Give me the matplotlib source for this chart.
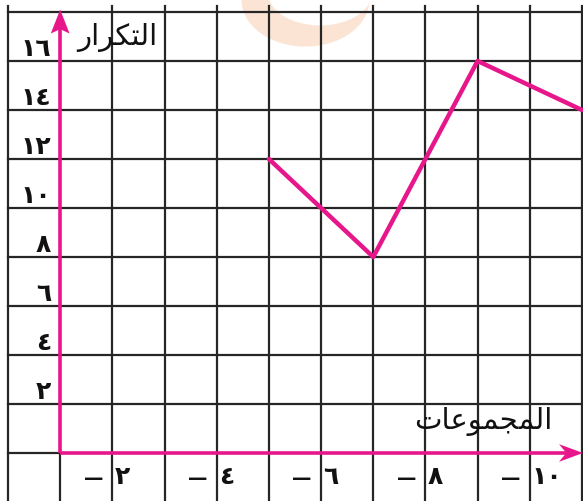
import matplotlib
matplotlib.use("Agg")
import matplotlib.pyplot as plt
from matplotlib.patches import Polygon, Ellipse

# ---------------- data ----------------
class_starts = [2, 4, 6, 8, 10]
class_labels = ['٢', '٤', '٦', '٨', '١٠']
midpoints = [5, 7, 9, 11]
frequencies = [12, 8, 16, 14]
y_ticks = [2, 4, 6, 8, 10, 12, 14, 16]
y_tick_labels = ['٢', '٤', '٦', '٨', '١٠', '١٢', '١٤', '١٦']
# Arabic titles, written with presentation forms in visual order so they are shaped
y_title = '\uFEAD\uFE8D\uFEAE\uFEDC\uFE98\uFEDF\uFE8D'          # التكرار
x_title = '\uFE95\uFE8E\uFECB\uFEEE\uFEE4\uFEA0\uFEE4\uFEDF\uFE8D'  # المجموعات

PINK = '#E8168B'
GRID = '#262626'

plt.rcParams['font.family'] = ['DejaVu Sans']

fig = plt.figure(figsize=(5.83, 5.01), dpi=100)
ax = fig.add_axes([0, 0, 1, 1])
ax.set_xlim(-0.153, 11.02)
ax.set_ylim(-1.96, 18.49)
ax.axis('off')

# faint watermark crescent at top
ax.add_patch(Ellipse((5.70, 18.49), 2.45, 3.8, color='#FCE4D4', zorder=0, lw=0))
ax.add_patch(Ellipse((5.98, 18.80), 2.0, 2.7, color='white', zorder=0.5, lw=0))

# grid
xs_grid = list(range(0, 12))
for x in xs_grid:
    if x == 1:
        ax.plot([x, x], [-1.96, 0], color=GRID, lw=1.6, zorder=2)
    else:
        ax.plot([x, x], [-1.96, 18.245], color=GRID, lw=1.6, zorder=2)
for y in range(2, 19, 2):
    ax.plot([0, 11.1], [y, y], color=GRID, lw=1.6, zorder=2)
ax.plot([0, 1], [0, 0], color=GRID, lw=1.6, zorder=2)

# pink axes with arrowheads
ax.plot([1, 1], [0, 17.3], color=PINK, lw=2.6, zorder=3, solid_capstyle='butt')
ax.plot([1, 10.7], [0, 0], color=PINK, lw=2.6, zorder=3, solid_capstyle='butt')
ax.add_patch(Polygon([[1, 18.1], [0.82, 17.12], [1, 17.3], [1.18, 17.12]],
                     closed=True, color=PINK, zorder=4, lw=0))
ax.add_patch(Polygon([[11.02, 0], [10.56, 0.36], [10.7, 0], [10.56, -0.36]],
                     closed=True, color=PINK, zorder=4, lw=0))

# frequency polygon
ax.plot(midpoints, frequencies, color=PINK, lw=3.2, zorder=5,
        solid_joinstyle='round', solid_capstyle='round')

# y tick labels
for v, lab in zip(y_ticks, y_tick_labels):
    ax.text(0.83, v + 0.5, lab, ha='right', va='center', fontsize=18,
            fontweight='bold', color='#111111', zorder=6)

# x class labels: "dash | digit" around the grid line
for v, lab in zip(class_starts, class_labels):
    ax.text(v - 0.18, -1.05, '\u2014', ha='right', va='center', fontsize=14,
            fontweight='bold', color='#111111', zorder=6)
    ax.text(v + 0.04, -1.0, lab, ha='left', va='center', fontsize=18,
            fontweight='bold', color='#111111', zorder=6)

# axis titles
ax.text(2.09, 16.95, y_title, ha='center', va='center', fontsize=21,
        color='#111111', zorder=6)
ax.text(9.10, 1.3, x_title, ha='center', va='center', fontsize=21,
        color='#111111', zorder=6)

fig.savefig('out.png', dpi=100)
